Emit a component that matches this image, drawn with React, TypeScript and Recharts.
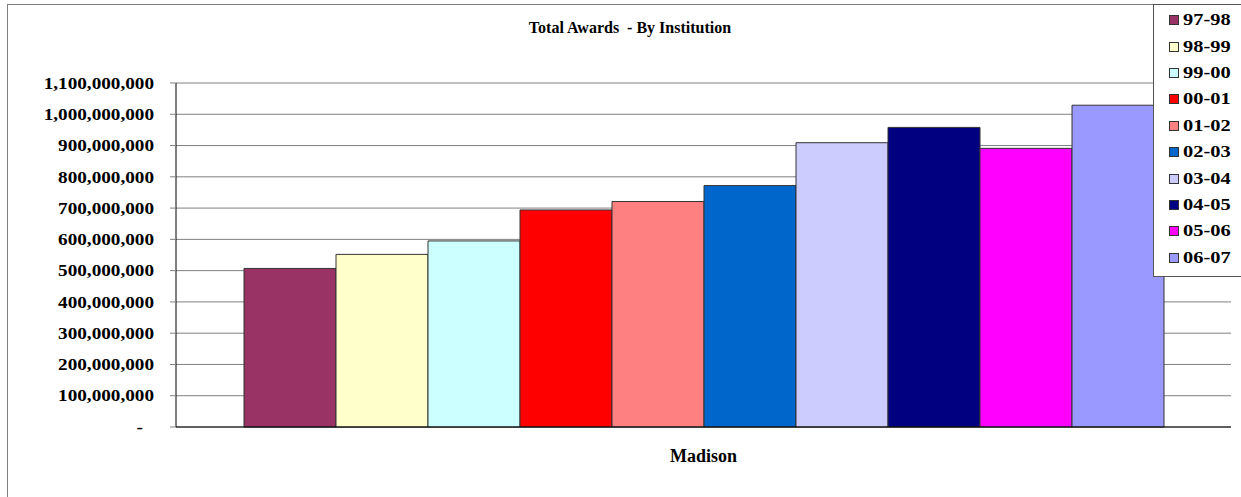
import { BarChart, Bar, XAxis, YAxis, CartesianGrid, Legend } from "recharts";

const categories = ["Madison"];
const seasons = ["97-98", "98-99", "99-00", "00-01", "01-02", "02-03", "03-04", "04-05", "05-06", "06-07"];
const awards = [507e6, 552e6, 595e6, 694e6, 721e6, 772e6, 909e6, 958e6, 891e6, 1029e6];
const colors = ["#993366", "#FFFFCC", "#CCFFFF", "#FF0000", "#FF8080", "#0066CC", "#CCCCFF", "#000080", "#FF00FF", "#9999FF"];
const yTicks = [0, 100e6, 200e6, 300e6, 400e6, 500e6, 600e6, 700e6, 800e6, 900e6, 1000e6, 1100e6];

const data = categories.map((name) => {
  const row: Record<string, string | number> = { name };
  seasons.forEach((s, i) => {
    row[s] = awards[i];
  });
  return row;
});

const font = '"Times New Roman", "Liberation Serif", serif';

// excel draws these labels a bit wider than the font does, so stretch them
function YTick({ x, y, payload }: any) {
  const v = payload.value as number;
  const label = v === 0 ? "-" : v.toLocaleString("en-US");
  const tx = v === 0 ? x - 11 : x;
  return (
    <text
      transform={`translate(${tx},${y}) scale(1.2,1)`}
      x={0}
      y={0}
      dy="0.36em"
      textAnchor="end"
      fontFamily={font}
      fontSize={16}
      fontWeight="bold"
      fill="#000"
    >
      {label}
    </text>
  );
}

// keep the legend in series order (recharts sorts it by name otherwise)
function LegendBox() {
  return (
    <div
      style={{
        boxSizing: "border-box",
        width: 88,
        height: 273,
        background: "#fff",
        border: "1px solid #555",
        borderRight: "none",
        paddingTop: 2,
        paddingLeft: 15,
        fontFamily: font,
      }}
    >
      {seasons.map((s, i) => (
        <div key={s} style={{ display: "flex", alignItems: "center", height: 26.4 }}>
          <span
            style={{
              display: "inline-block",
              boxSizing: "border-box",
              width: 10,
              height: 10,
              background: colors[i],
              border: "1px solid #333",
              marginRight: 4,
            }}
          />
          <span
            style={{
              display: "inline-block",
              fontSize: 17,
              fontWeight: "bold",
              color: "#000",
              transform: "scaleX(1.2)",
              transformOrigin: "left center",
            }}
          >
            {s}
          </span>
        </div>
      ))}
    </div>
  );
}

const App = () => {
  return (
    <div style={{ position: "absolute", left: 0, top: 0, width: 1241, height: 497, background: "#fff", overflow: "hidden" }}>
      <div
        style={{
          position: "absolute",
          left: 7,
          top: 4,
          width: 1234,
          height: 493,
          boxSizing: "border-box",
          borderLeft: "1px solid #7f7f7f",
          borderTop: "1px solid #7f7f7f",
        }}
      />
      <div
        style={{
          position: "absolute",
          left: 430,
          top: 19,
          width: 400,
          textAlign: "center",
          whiteSpace: "pre",
          fontFamily: font,
          fontSize: 16,
          fontWeight: "bold",
          color: "#000",
        }}
      >
        {"Total Awards  - By Institution"}
      </div>
      <div style={{ position: "absolute", left: 0, top: 0 }}>
        <BarChart
          width={1241}
          height={497}
          data={data}
          margin={{ top: 83, right: 10, bottom: 30, left: 0 }}
          barSize={92}
          barGap={0}
        >
          <CartesianGrid vertical={false} stroke="#808080" strokeWidth={1} />
          <XAxis
            dataKey="name"
            height={40}
            axisLine={{ stroke: "#000" }}
            tickLine={false}
            tickMargin={16}
            tick={{ fontFamily: font, fontSize: 18, fontWeight: "bold", fill: "#000" }}
          />
          <YAxis
            width={176}
            domain={[0, 1100e6]}
            ticks={yTicks}
            interval={0}
            axisLine={{ stroke: "#000" }}
            tickLine={{ stroke: "#808080" }}
            tickSize={6}
            tickMargin={16}
            tick={<YTick />}
          />
          <Legend
            layout="horizontal"
            verticalAlign="middle"
            content={<LegendBox />}
            wrapperStyle={{ left: 1153, top: 4, width: 88, height: 273 }}
          />
          {seasons.map((s, i) => (
            <Bar key={s} dataKey={s} fill={colors[i]} stroke="#333" strokeWidth={1} isAnimationActive={false} />
          ))}
        </BarChart>
      </div>
    </div>
  );
};

export default App;
